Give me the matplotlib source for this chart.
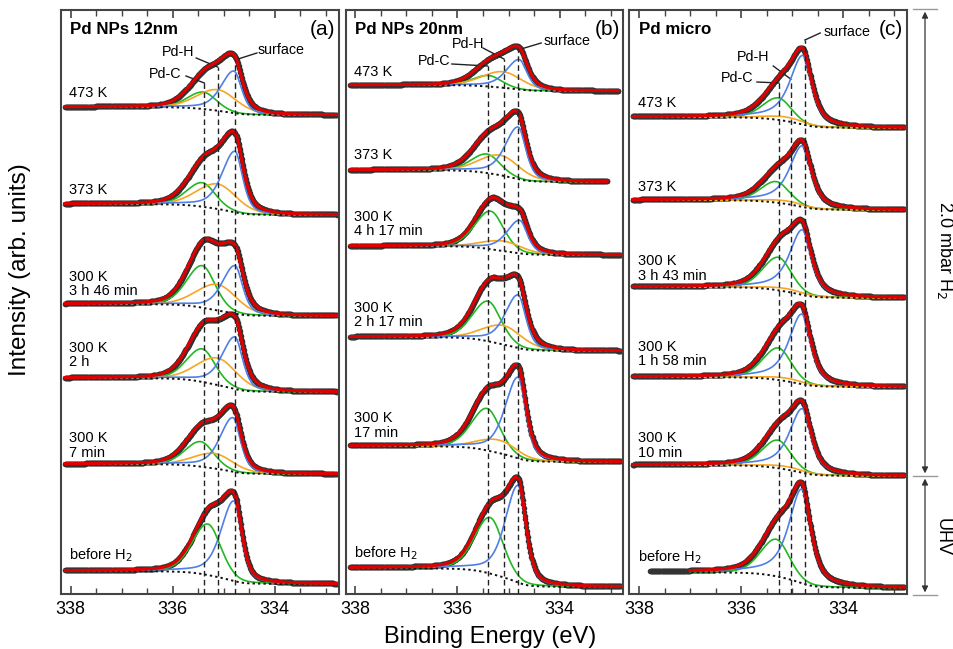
import numpy as np
import matplotlib.pyplot as plt
from matplotlib.lines import Line2D
from matplotlib.ticker import MultipleLocator

plt.rcParams['font.family'] = ['Liberation Sans', 'DejaVu Sans']

GREEN, ORANGE, BLUE, RED = '#22b822', '#f5a623', '#4f7fe6', '#e00000'

# x window (binding energy, eV), high BE on the left
be_max, be_min = 338.19, 332.75

titles = ['Pd NPs 12nm', 'Pd NPs 20nm', 'Pd micro']
tags = ['(a)', '(b)', '(c)']

# ---- Pd NPs 12 nm ----
a_labels = ['473 K', '373 K', '300 K\n3 h 46 min', '300 K\n2 h', '300 K\n7 min', 'before H$_2$']
a_bg_left = [487, 390, 290, 216, 130, 23]
a_bg_right = [479, 379, 278, 202, 120, 10]
a_pdc_pos = [335.40, 335.42, 335.42, 335.42, 335.45, 335.31]
a_pdc_amp = [17, 24, 42, 33, 25, 51]
a_pdh_pos = [335.12, 335.12, 335.12, 335.12, 335.18, 335.12]
a_pdh_amp = [21, 25, 26, 27, 15, 0]
a_surf_pos = [334.80, 334.78, 334.78, 334.78, 334.82, 334.80]
a_surf_amp = [42, 61, 48, 52, 54, 80]
a_lines = [335.38, 335.12, 334.78]

# ---- Pd NPs 20 nm ----
b_labels = ['473 K', '373 K', '300 K\n4 h 17 min', '300 K\n2 h 17 min', '300 K\n17 min', 'before H$_2$']
b_bg_left = [509, 424, 348, 257, 148, 26]
b_bg_right = [503, 412, 339, 243, 132, 7]
b_pdc_pos = [335.39, 335.42, 335.35, 335.40, 335.42, 335.36]
b_pdc_amp = [11, 19, 38, 40, 42, 56]
b_pdh_pos = [335.11, 335.16, 335.10, 335.10, 335.20, 335.10]
b_pdh_amp = [16, 20, 10, 19, 13, 0]
b_surf_pos = [334.79, 334.81, 334.78, 334.81, 334.81, 334.81]
b_surf_amp = [30, 52, 33, 53, 81, 97]
b_lines = [335.41, 335.09, 334.82]

# ---- Pd micro ----
c_labels = ['473 K', '373 K', '300 K\n3 h 43 min', '300 K\n1 h 58 min', '300 K\n10 min', 'before H$_2$']
c_bg_left = [477, 394, 307, 217, 129, 22]
c_bg_right = [466, 384, 296, 207, 118, 6]
c_pdc_pos = [335.27, 335.31, 335.27, 335.27, 335.28, 335.31]
c_pdc_amp = [22, 21, 33, 32, 28, 37]
c_pdh_pos = [335.10, 335.10, 335.10, 335.10, 335.10, 335.10]
c_pdh_amp = [4, 3, 3, 3, 3, 0]
c_surf_pos = [334.79, 334.80, 334.80, 334.81, 334.80, 334.81]
c_surf_amp = [69, 61, 65, 70, 64, 94]
c_lines = [335.26, 335.03, 334.75]

# measured range and fitted range of every spectrum (high, low BE)
a_data = [(338.11, 332.79)] * 6
b_data = [(338.10, 332.85), (338.10, 333.07)] + [(338.10, 332.80)] * 4
c_data = [(338.12, 332.80)] * 5 + [(337.78, 332.80)]
c_fit_start = [338.12] * 5 + [337.0]

# line shapes: (half width high-BE side, half width low-BE side, lorentz fraction)
pdc_shape = (0.36, 0.30, 0.25)
pdh_shape = (0.48, 0.45, 0.20)
surf_shape_np = (0.30, 0.18, 0.50)
surf_shape_micro = (0.30, 0.21, 0.75)


def peak(x, pos, amp, shape):
    w_hi, w_lo, eta = shape
    w = np.where(x > pos, w_hi, w_lo)
    u = (x - pos) / w
    return amp * ((1 - eta) * np.exp(-np.log(2) * u ** 2) + eta / (1 + u ** 2))


def shirley(x, total, left, right):
    # x ascending in BE; step follows the integrated peak area
    cum = np.concatenate([[0], np.cumsum(0.5 * (total[1:] + total[:-1]) * np.diff(x))])
    return right + (left - right) * cum / cum[-1]


panels = [
    dict(labels=a_labels, bgl=a_bg_left, bgr=a_bg_right,
         comps=[(a_pdc_pos, a_pdc_amp, pdc_shape, GREEN),
                (a_pdh_pos, a_pdh_amp, pdh_shape, ORANGE),
                (a_surf_pos, a_surf_amp, surf_shape_np, BLUE)],
         lines=a_lines, data=a_data, fit=[r[0] for r in a_data]),
    dict(labels=b_labels, bgl=b_bg_left, bgr=b_bg_right,
         comps=[(b_pdc_pos, b_pdc_amp, pdc_shape, GREEN),
                (b_pdh_pos, b_pdh_amp, pdh_shape, ORANGE),
                (b_surf_pos, b_surf_amp, surf_shape_np, BLUE)],
         lines=b_lines, data=b_data, fit=[r[0] for r in b_data]),
    dict(labels=c_labels, bgl=c_bg_left, bgr=c_bg_right,
         comps=[(c_pdc_pos, c_pdc_amp, pdc_shape, GREEN),
                (c_pdh_pos, c_pdh_amp, pdh_shape, ORANGE),
                (c_surf_pos, c_surf_amp, surf_shape_micro, BLUE)],
         lines=c_lines, data=c_data, fit=c_fit_start),
]

# label placement inside each panel (BE, intensity)
label_y = [[501, 404, 310, 239, 148.5, 39],
           [522, 439, 370, 279, 168.5, 41],
           [491, 407, 325.5, 240, 148.5, 37]]
line_tops = [[511, 527, 534], [528, 535, 544], [511, 515, 554]]
name_pos = [[(336.15, 520), (335.90, 542), (333.88, 544)],
            [(336.46, 533), (335.79, 550), (333.85, 553)],
            [(336.08, 516), (335.76, 537), (333.92, 562)]]
leader_start = [[(335.74, 518), (335.54, 536), (334.35, 541)],
                [(336.11, 530), (335.50, 546), (334.36, 551)],
                [(335.69, 512), (335.37, 528), (334.45, 561)]]
comp_names = ['Pd-C', 'Pd-H', 'surface']

fig = plt.figure(figsize=(9.54, 6.49), dpi=100)
lefts = [0.0639, 0.3624, 0.6597]
width = 0.2910
bottom, height = 0.0847, 0.8999

for k, p in enumerate(panels):
    ax = fig.add_axes([lefts[k], bottom, width, height])
    for i in range(6):
        hi, lo = p['data'][i]
        x = np.arange(lo, hi + 1e-9, 0.01)
        parts = [peak(x, pos[i], amp[i], shp) for pos, amp, shp, _ in p['comps']]
        total = sum(parts)
        bg = shirley(x, total, p['bgl'][i], p['bgr'][i])
        env = bg + total
        ax.plot(x, env, 'o', ms=4.0, color='#333333', mec='none', zorder=2)
        fit = x <= p['fit'][i]
        for part, (_, amp, _, col) in zip(parts, p['comps']):
            if amp[i] > 0:
                ax.plot(x[fit], (bg + part)[fit], color=col, lw=1.2, zorder=3)
        ax.plot(x[fit], bg[fit], ls=(0, (1.2, 1.6)), color='#111', lw=1.4, zorder=4)
        ax.plot(x[fit], env[fit], color=RED, lw=2.2, zorder=5)
        ax.text(338.03, label_y[k][i], p['labels'][i], fontsize=10.5,
                ha='left', va='center', linespacing=1.05)

    ax.vlines(p['lines'], 0, line_tops[k], colors='#222', linestyles=(0, (4, 2.5)), lw=1.0, zorder=6)
    for j in range(3):
        tx, ty = name_pos[k][j]
        ax.text(tx, ty, comp_names[j], fontsize=10.3, ha='center', va='center')
        sx, sy = leader_start[k][j]
        ax.plot([sx, p['lines'][j]], [sy, line_tops[k][j]], color='#222', lw=1.0)

    ax.text(338.01, 564, titles[k], fontsize=12.2, fontweight='bold', ha='left', va='center')
    ax.text(333.07, 564, tags[k], fontsize=15, ha='center', va='center')

    ax.set_xlim(be_max, be_min)
    ax.set_ylim(0, 584)
    ax.set_yticks([])
    ax.xaxis.set_major_locator(MultipleLocator(2))
    ax.xaxis.set_minor_locator(MultipleLocator(0.5))
    ax.tick_params(axis='x', which='both', direction='in', top=True, labelsize=13, pad=5)
    ax.tick_params(axis='x', which='major', length=6, width=1.2, color='#444')
    ax.tick_params(axis='x', which='minor', length=4, width=1.0, color='#444')
    for s in ax.spines.values():
        s.set_linewidth(1.5)
        s.set_color('#444')

fig.text(0.021, 0.584, 'Intensity (arb. units)', rotation=90, fontsize=17.5, ha='center', va='center')
fig.text(0.5136, 0.0185, 'Binding Energy (eV)', fontsize=17, ha='center', va='center')

# pressure bracket on the right
for yy in [0.986, 0.2666, 0.0832]:
    fig.add_artist(Line2D([0.957, 0.982], [yy, yy], color='#999', lw=1.0))
for y0, y1 in [(0.986, 0.2666), (0.2666, 0.0832)]:
    fig.add_artist(plt.Annotation('', xy=(0.9696, y1 + 0.004), xytext=(0.9696, y0 - 0.004),
                                  xycoords='figure fraction',
                                  arrowprops=dict(arrowstyle='<|-|>', color='#333', lw=0.9,
                                                  mutation_scale=9, shrinkA=0, shrinkB=0)))
fig.text(0.9906, 0.6148, '2.0 mbar H$_2$', rotation=-90, fontsize=13, ha='center', va='center')
fig.text(0.9874, 0.1726, 'UHV', rotation=-90, fontsize=13, ha='center', va='center')

fig.savefig('out.png', dpi=100)
